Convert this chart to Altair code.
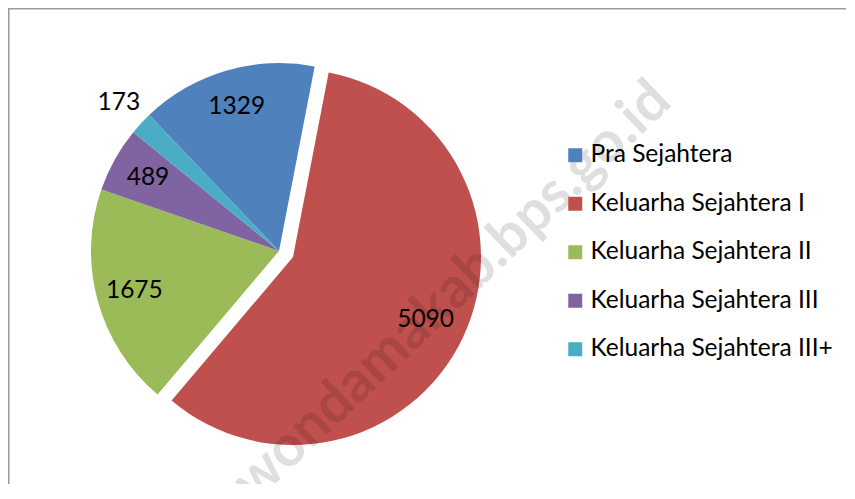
import math
import altair as alt
import pandas as pd

categories = ["Pra Sejahtera", "Keluarha Sejahtera I", "Keluarha Sejahtera II",
              "Keluarha Sejahtera III", "Keluarha Sejahtera III+"]
values = [1329, 5090, 1675, 489, 173]
colors = ["#4F81BD", "#C0504D", "#9BBB59", "#8064A2", "#4BACC6"]

df = pd.DataFrame({"cat": categories, "value": values, "idx": list(range(len(values)))})
total = sum(values)

FONT = "Lato"
FS = 24.5
start_angle = math.radians(-43.7)
theta_scale = alt.Scale(domain=[0, total], range=[start_angle, start_angle + 2 * math.pi])
color_scale = alt.Scale(domain=categories, range=colors)

CX, CY = 271, 243          # pie centre
EX, EY = 285, 249          # exploded slice centre
R = 188

base = alt.Chart(df).transform_window(
    end="sum(value)", frame=[None, 0], sort=[alt.SortField("idx")]
).transform_calculate(
    start="datum.end - datum.value",
    mid="datum.end - datum.value / 2",
)

legend = alt.Legend(
    title=None, orient="none", legendX=555, legendY=135, padding=0,
    symbolType="square", symbolSize=196, symbolStrokeWidth=0, symbolOpacity=1,
    labelFont=FONT, labelFontSize=FS, labelColor="#000000", labelLimit=400,
    labelOffset=3, rowPadding=23.5,
)

arcs_main = base.transform_filter(alt.datum.idx != 1).mark_arc(radius=R, stroke=None).encode(
    theta=alt.Theta("start:Q", scale=theta_scale, stack=None),
    theta2="end:Q",
    color=alt.Color("cat:N", scale=color_scale, legend=legend, sort=categories),
    x=alt.value(CX), y=alt.value(CY),
)

arc_exploded = base.transform_filter(alt.datum.idx == 1).mark_arc(radius=R, stroke=None).encode(
    theta=alt.Theta("start:Q", scale=theta_scale, stack=None),
    theta2="end:Q",
    color=alt.Color("cat:N", scale=color_scale, sort=categories),
    x=alt.value(EX), y=alt.value(EY),
)

def labels(filt, r, cx, cy):
    return base.transform_filter(filt).mark_text(
        radius=r, font=FONT, fontSize=FS, color="#000000", align="center", baseline="middle"
    ).encode(
        theta=alt.Theta("mid:Q", scale=theta_scale, stack=None),
        text=alt.Text("value:Q", format="d"),
        x=alt.value(cx), y=alt.value(cy),
    )

lab_inner = labels("datum.idx != 1 && datum.idx != 4", 150, CX, CY)
lab_outer = labels("datum.idx == 4", 218, CX, CY)
lab_red = labels("datum.idx == 1", 147, EX, EY)

watermark = alt.Chart(pd.DataFrame({"t": ["telukwondamakab.bps.go.id"]})).mark_text(
    font=FONT, fontSize=57, fontWeight="bold", color="#000000", opacity=0.12,
    angle=316.4, align="right", baseline="middle",
).encode(text="t:N", x=alt.value(654), y=alt.value(84))

border_top = alt.Chart(pd.DataFrame({"a": [0]})).mark_rule(color="#999999", strokeWidth=1.5).encode(
    x=alt.value(0), x2=alt.value(839), y=alt.value(0.75))
border_left = alt.Chart(pd.DataFrame({"a": [0]})).mark_rule(color="#999999", strokeWidth=1.5).encode(
    x=alt.value(0.75), y=alt.value(0), y2=alt.value(483))

chart = alt.layer(
    arcs_main, arc_exploded, lab_inner, lab_outer, lab_red, watermark, border_top, border_left
).properties(
    width=838, height=476, padding=0, autosize=alt.AutoSizeParams(type="none")
).configure_view(stroke=None).configure(background="white")

chart.save("out.html", embed_options={"renderer": "svg", "actions": False})
